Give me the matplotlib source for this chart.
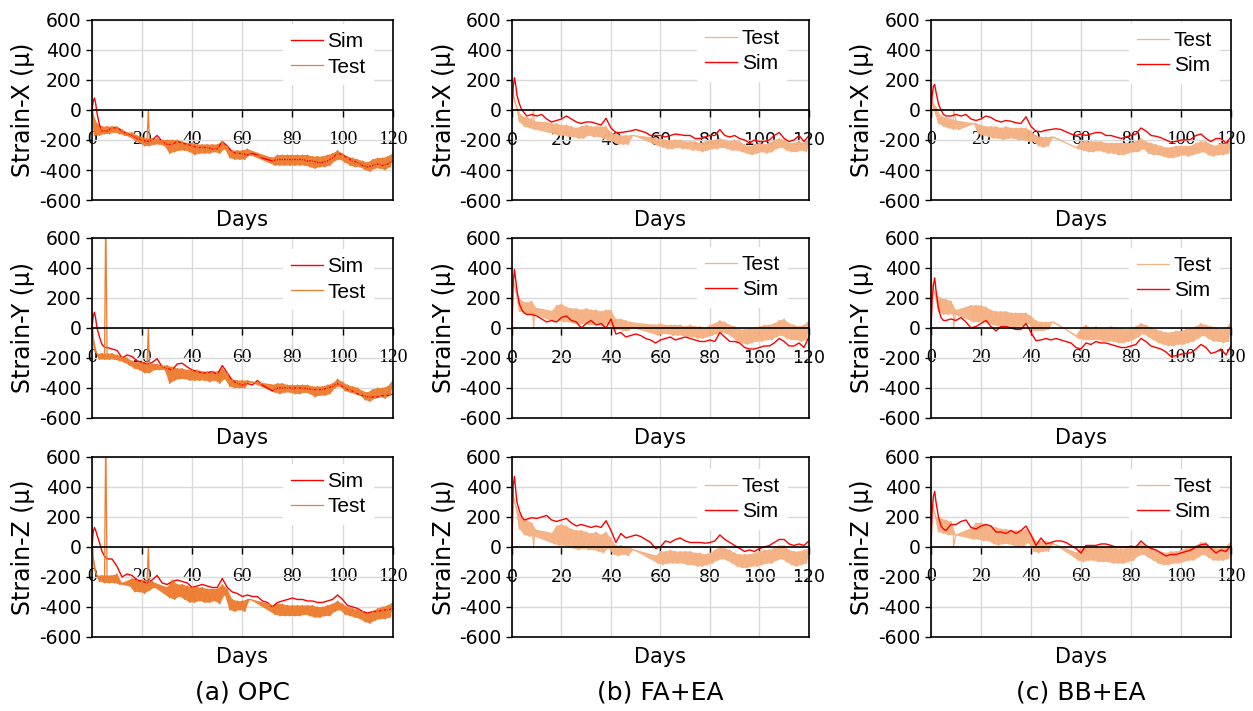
import numpy as np
import matplotlib.pyplot as plt

nan = np.nan

# time grids (days)
sim_days = [0, 0.5, 1, 1.5, 2, 3, 4, 5] + list(range(6, 121, 2))
hi_days = list(range(0, 121, 2))   # upper swings of the noisy test record
lo_days = list(range(1, 120, 2))   # lower swings of the noisy test record

# ---------------- (a) OPC ----------------
opc_x_sim = [0, 60, 80, 40, -20, -100, -140, -140,
             -140, -120, -120, -140, -160, -170, -190,
             -200, -210, -200, -170, -210, -230, -230, -210, -220, -230,
             -240, -250, -250, -250, -260, -260, -210, -240, -280, -290,
             -290, -300, -290, -300, -320, -330, -340, -330, -330, -330,
             -330, -330, -330, -340, -340, -350, -350, -340, -320, -290,
             -300, -320, -340, -350, -370, -380, -370, -360, -370, -360,
             -340]
opc_x_hi = [0, -90, -110, -110, -110, -110, -130, -150, -150, -170,
            -180, -190, -190, -190, -200, -200, -200, -200, -210, -220,
            -220, -230, -230, -230, -230, -230, -210, -240, -270, -270,
            -270, -260, nan, nan, nan, nan, -320, -300, -300, -300,
            -300, -300, -300, -300, -310, -310, -310, -300, -290, -270,
            -290, -310, -320, -330, -340, -350, -330, -320, -320, -310,
            -290]
opc_x_lo = [-170, -170, -160, -160, -150, -160, -170, -180, -200, -220,
            -240, -240, -230, -230, -240, -290, -280, -270, -270, -280,
            -300, -290, -290, -290, -280, -290, -260, -320, -330, -330,
            -330, -300, nan, nan, nan, nan, -370, -370, -370, -370,
            -370, -370, -370, -380, -390, -380, -380, -370, -340, -330,
            -350, -370, -380, -380, -400, -410, -390, -390, -400, -380]
opc_x_spike_days = [22.5]
opc_x_spike_vals = [0]

opc_y_sim = [0, 80, 105, 60, 0, -60, -110, -128,
             -130, -140, -150, -200, -180, -190, -220,
             -230, -240, -230, -205, -260, -270, -280, -240, -235, -260,
             -280, -290, -300, -300, -290, -310, -250, -300, -350, -370,
             -380, -370, -380, -350, -380, -400, -420, -400, -400, -400,
             -400, -400, -400, -405, -410, -410, -410, -400, -390, -370,
             -390, -410, -420, -440, -450, -460, -460, -460, -450, -450,
             -440]
opc_y_hi = [0, -170, -170, -170, -170, -180, -190, -200, -220, -230,
            -230, -230, -240, -240, -250, -250, -260, -270, -270, -280,
            -280, -280, -290, -290, -290, -290, -270, -300, -340, -350,
            -350, -350, nan, nan, nan, nan, -380, -370, -370, -380,
            -380, -380, -380, -380, -390, -390, -390, -380, -370, -340,
            -360, -380, -390, -400, -420, -430, -410, -400, -400, -390,
            -350]
opc_y_lo = [-150, -210, -210, -210, -210, -220, -230, -250, -270, -280,
            -300, -300, -280, -280, -280, -370, -350, -340, -340, -350,
            -350, -350, -350, -360, -350, -370, -340, -390, -400, -400,
            -400, -360, nan, nan, nan, nan, -430, -440, -430, -430,
            -440, -440, -430, -440, -460, -450, -450, -440, -400, -390,
            -420, -430, -440, -450, -480, -490, -470, -460, -470, -450]
opc_y_spike_days = [5.5, 22.5]
opc_y_spike_vals = [800, 0]

opc_z_sim = [0, 100, 130, 110, 80, 30, -30, -60,
             -80, -80, -130, -200, -180, -190, -220,
             -230, -240, -220, -190, -240, -250, -230, -220, -230, -240,
             -270, -260, -250, -260, -270, -270, -210, -270, -300, -310,
             -330, -320, -330, -330, -360, -370, -400, -370, -360, -350,
             -340, -350, -350, -360, -360, -370, -370, -360, -350, -320,
             -350, -390, -400, -410, -430, -440, -430, -430, -420, -420,
             -410]
opc_z_hi = [0, -190, -190, -190, -190, -180, -240, nan, -210, -220,
            -220, -225, -230, nan, nan, -270, -220, -250, -250, -260,
            -270, -270, -270, -280, -280, -280, -250, -280, -350, -360,
            -360, -350, nan, nan, nan, nan, -390, -380, -380, -390,
            -390, -390, -390, -390, -390, -400, -400, -390, -380, -360,
            -380, -400, -410, -420, -430, -440, -430, -410, -400, -390,
            -370]
opc_z_lo = [-150, -230, -240, -240, -240, -250, nan, -260, -300, -300,
            -310, -290, -270, nan, nan, -340, -350, -330, -350, -370,
            -370, -360, -370, -370, -360, -380, -320, -420, -430, -420,
            -430, -350, nan, nan, nan, nan, -450, -460, -460, -460,
            -460, -460, -450, -460, -470, -470, -460, -460, -430, -420,
            -450, -460, -470, -480, -500, -510, -490, -480, -480, -470]
opc_z_spike_days = [5.5, 22.5]
opc_z_spike_vals = [800, 0]

# ---------------- (b) FA+EA ----------------
fa_x_sim = [0, 150, 215, 170, 100, 40, 0, -20,
            -40, -30, -40, -30, -60, -80, -70,
            -60, -40, -60, -80, -90, -80, -80, -90, -100, -55,
            -120, -150, -150, -145, -140, -130, -140, -150, -170, -170,
            -170, -180, -170, -160, -165, -170, -170, -190, -190, -180,
            -170, -170, -130, -170, -180, -170, -190, -200, -220, -200,
            -210, -210, -200, -170, -150, -190, -210, -200, -170, -210,
            -170]
fa_x_hi = [160, 20, -40, -50, -60, -80, nan, nan, -90, -90,
           -100, -100, -110, -120, -110, -100, -110, -110, -110, -110,
           -150, -160, -170, -170, -170, nan, nan, nan, nan, -190,
           -190, -200, -200, -200, -200, -210, -210, -210, -220, -210,
           -200, -200, -190, -200, -210, -200, -210, -230, -240, -230,
           -220, -230, -220, -200, -190, -200, -220, -220, -210, -220,
           -200]
fa_x_lo = [60, -80, -110, -120, -130, nan, nan, nan, -160, -170,
           -170, -180, -180, -190, -190, -170, -180, -180, -190, -200,
           -210, -230, -230, -230, -170, nan, nan, nan, nan, -240,
           -250, -260, -260, -250, -260, -260, -270, -270, -280, -270,
           -260, -260, -250, -260, -270, -270, -280, -290, -300, -290,
           -280, -290, -280, -260, -250, -270, -280, -280, -270, -280]
fa_x_spike_days = [8.8]
fa_x_spike_vals = [0]

fa_y_sim = [0, 300, 390, 320, 250, 160, 120, 100,
            90, 90, 80, 60, 40, 50, 40,
            70, 80, 50, 40, 0, 30, 50, 20, 30, 0,
            60, -40, -30, -60, -50, -40, -50, -70, -80, -100,
            -80, -70, -60, -80, -70, -60, -70, -80, -90, -90,
            -80, -90, -30, -60, -90, -90, -100, -130, -140, -140,
            -130, -120, -120, -100, -70, -90, -120, -120, -100, -130,
            -60]
fa_y_hi = [370, 220, 180, 170, 180, 130, nan, nan, 110, 150,
           160, 140, 130, 130, 120, 130, 120, 120, 110, 120,
           120, 60, 60, 50, 40, nan, nan, nan, nan, 20,
           30, 20, 20, 20, 20, 10, 20, 10, 10, 0,
           20, 30, 50, 40, 20, 10, -10, -10, 0, 0,
           10, 20, 20, 30, 50, 60, 30, 20, 10, 20,
           50]
fa_y_lo = [280, 110, 100, 90, 90, nan, nan, nan, 40, 50,
           40, 40, 30, 20, 30, 20, 20, 20, 10, 30,
           -20, -10, -20, -20, 0, nan, nan, nan, nan, -50,
           -40, -40, -50, -50, -50, -60, -60, -70, -70, -60,
           -50, -40, -30, -40, -60, -90, -100, -110, -100, -90,
           -90, -80, -80, -60, -50, -70, -80, -80, -90, -80]
fa_y_spike_days = [8.8]
fa_y_spike_vals = [0]

fa_z_sim = [0, 410, 470, 380, 300, 240, 200, 180,
            185, 195, 190, 200, 210, 180, 170,
            180, 190, 160, 140, 150, 140, 130, 140, 130, 175,
            110, 30, 90, 60, 70, 80, 70, 50, 30, -10,
            0, 40, 30, 50, 60, 40, 30, 30, 30, 25,
            30, 40, 80, 50, 30, 10, -10, -30, -20, -30,
            -10, 0, 10, 30, 50, 50, 20, 10, 20, 10,
            40]
fa_z_hi = [400, 250, 200, 180, 160, 110, nan, nan, 90, 140,
           150, 140, 120, 110, 110, 100, 90, 100, 80, 100,
           60, 10, 10, 0, -10, nan, nan, nan, nan, -60,
           -30, -30, -20, -30, -30, -30, -30, -40, -40, -50,
           -40, -20, 0, -10, -20, -40, -50, -50, -50, -40,
           -30, -20, -20, -10, 10, 10, -20, -30, -30, -20,
           -10]
fa_z_lo = [300, 120, 80, 70, 70, nan, nan, nan, 20, 10,
           10, 0, -10, -20, -10, -20, -20, -30, -40, -10,
           -50, -60, -50, -60, -20, nan, nan, nan, nan, -110,
           -120, -110, -110, -110, -110, -120, -120, -130, -130, -120,
           -110, -90, -80, -90, -110, -130, -140, -140, -130, -130,
           -120, -110, -110, -90, -80, -100, -120, -130, -120, -110]
fa_z_spike_days = [8.8]
fa_z_spike_vals = [0]

# ---------------- (c) BB+EA ----------------
bb_x_sim = [0, 100, 160, 170, 120, 40, 0, -30,
            -40, -40, -30, -40, -30, -60, -70,
            -60, -40, -50, -70, -80, -70, -75, -85, -90, -45,
            -110, -140, -145, -135, -130, -125, -130, -145, -160, -170,
            -160, -170, -160, -150, -150, -170, -170, -180, -190, -180,
            -170, -160, -120, -140, -170, -175, -185, -200, -215, -210,
            -200, -200, -195, -170, -160, -190, -210, -190, -190, -220,
            -180]
bb_x_hi = [80, 20, -40, -50, -60, -70, nan, nan, nan, -90,
           -100, -110, -110, -110, -120, -110, -120, -120, -120, -120,
           -140, -170, -180, -180, -180, nan, nan, nan, nan, -250,
           -210, -210, -210, -210, -210, -220, -220, -220, -220, -220,
           -220, -210, -190, -210, -220, -230, -240, -250, -250, -240,
           -240, -240, -240, -220, -210, -210, -230, -240, -220, -230,
           -200]
bb_x_lo = [0, -90, -110, -120, -130, -130, nan, nan, -90, -160,
           -170, -180, -190, -190, -200, -190, -190, -200, -200, -210,
           -210, -240, -250, -240, -180, nan, nan, nan, nan, -260,
           -270, -280, -280, -270, -280, -290, -290, -300, -300, -290,
           -280, -280, -260, -290, -300, -300, -310, -320, -320, -310,
           -300, -310, -300, -290, -280, -300, -310, -300, -300, -290]
bb_x_spike_days = [9]
bb_x_spike_vals = [0]

bb_y_sim = [0, 200, 290, 334, 250, 130, 70, 50,
            50, 60, 50, 70, 40, 0, 10,
            30, 50, 10, -20, 10, 10, 0, -10, -10, 30,
            -30, -85, -80, -70, -80, -70, -80, -90, -100, -130,
            -140, -100, -110, -90, -100, -100, -110, -120, -130, -130,
            -120, -110, -70, -90, -120, -130, -140, -160, -190, -185,
            -175, -170, -165, -140, -110, -130, -170, -160, -140, -180,
            -120]
bb_y_hi = [320, 220, 200, 190, 180, 120, nan, nan, 150, 150,
           150, 140, 120, 110, 110, 110, 100, 100, 100, 100,
           80, 50, 40, 40, 40, nan, nan, nan, nan, -50,
           0, 20, 0, 10, 0, 0, 10, 0, 0, -10,
           0, 10, 30, 20, 0, -10, -20, -30, -30, -20,
           -20, -10, 0, 10, 30, 20, 10, 0, -10, 0,
           40]
bb_y_lo = [250, 110, 90, 90, 90, 80, nan, nan, 40, 40,
           40, 30, 20, 10, 20, 10, 0, 10, 10, 30,
           -20, -20, -20, -10, 40, nan, nan, nan, nan, -70,
           -80, -80, -80, -80, -90, -90, -90, -100, -100, -90,
           -80, -60, -40, -60, -80, -100, -110, -120, -120, -110,
           -110, -100, -90, -70, -50, -70, -90, -90, -100, -90]
bb_y_spike_days = [9]
bb_y_spike_vals = [0]

bb_z_sim = [0, 250, 340, 370, 300, 200, 140, 120,
            110, 150, 150, 170, 180, 130, 120,
            140, 150, 140, 100, 100, 90, 110, 90, 110, 140,
            80, 10, 60, 20, 30, 40, 40, 30, 10, -10,
            -40, 10, 10, 10, 20, 20, 10, 0, 0, 0,
            5, 0, 40, 10, -10, -20, -40, -60, -50, -50,
            -40, -30, -20, 0, 15, 20, -10, -40, -20, -30,
            10]
bb_z_hi = [330, 200, 190, 180, 170, 80, nan, nan, 120, 160,
           160, 150, 140, 130, 120, 120, 110, 110, 110, 120,
           90, 40, 40, 40, 30, nan, nan, nan, nan, -40,
           0, 10, 0, 0, 0, 0, 0, -10, -10, -10,
           0, 10, 20, 10, 0, -20, -30, -40, -30, -30,
           -20, -10, 0, 10, 30, 30, 0, -10, -10, 0,
           40]
bb_z_lo = [250, 100, 90, 80, 80, nan, nan, nan, 50, 50,
           40, 40, 20, 10, 20, 20, 10, 0, 0, 30,
           -30, -40, -30, -30, 20, nan, nan, nan, nan, -90,
           -100, -90, -90, -100, -100, -100, -110, -110, -110, -100,
           -90, -60, -50, -70, -90, -110, -120, -120, -110, -110,
           -100, -90, -90, -70, -50, -70, -90, -90, -90, -80]
bb_z_spike_days = [9]
bb_z_spike_vals = [0]

mixes = ['(a) OPC', '(b) FA+EA', '(c) BB+EA']
strains = ['Strain-X (μ)', 'Strain-Y (μ)', 'Strain-Z (μ)']
sims = [[opc_x_sim, fa_x_sim, bb_x_sim],
        [opc_y_sim, fa_y_sim, bb_y_sim],
        [opc_z_sim, fa_z_sim, bb_z_sim]]
tests_hi = [[opc_x_hi, fa_x_hi, bb_x_hi],
            [opc_y_hi, fa_y_hi, bb_y_hi],
            [opc_z_hi, fa_z_hi, bb_z_hi]]
tests_lo = [[opc_x_lo, fa_x_lo, bb_x_lo],
            [opc_y_lo, fa_y_lo, bb_y_lo],
            [opc_z_lo, fa_z_lo, bb_z_lo]]
spike_days = [[opc_x_spike_days, fa_x_spike_days, bb_x_spike_days],
              [opc_y_spike_days, fa_y_spike_days, bb_y_spike_days],
              [opc_z_spike_days, fa_z_spike_days, bb_z_spike_days]]
spike_vals = [[opc_x_spike_vals, fa_x_spike_vals, bb_x_spike_vals],
              [opc_y_spike_vals, fa_y_spike_vals, bb_y_spike_vals],
              [opc_z_spike_vals, fa_z_spike_vals, bb_z_spike_vals]]

test_colors = ['#ED7D31', '#F4B183', '#F4B183']
sim_color = '#FF0000'

# layout (figure fractions)
lefts = [0.0734, 0.4086, 0.743]
widths = [0.240, 0.237, 0.2394]
bottoms = [0.7187, 0.4121, 0.1041]
height = 0.2532
legend_anchor = [[(0.938, 0.978), (0.930, 0.995), (0.964, 0.984)],
                 [(0.938, 0.939), (0.930, 0.951), (0.964, 0.945)],
                 [(0.938, 0.962), (0.930, 0.934), (0.964, 0.934)]]

plt.rcParams['font.family'] = ['DejaVu Sans']
plt.rcParams['axes.unicode_minus'] = False
fig = plt.figure(figsize=(12.53, 7.11), dpi=100)


def clean(x, y):
    x = np.asarray(x, dtype=float)
    y = np.asarray(y, dtype=float)
    ok = ~np.isnan(y)
    return x[ok], y[ok]


for r in range(3):
    for c in range(3):
        ax = fig.add_axes([lefts[c], bottoms[r], widths[c], height])
        col = test_colors[c]

        # test record: band between swings + the zigzag trace with spikes
        hx, hy = clean(hi_days, tests_hi[r][c])
        lx, ly = clean(lo_days, tests_lo[r][c])
        ax.fill(np.concatenate([hx, lx[::-1]]), np.concatenate([hy, ly[::-1]]),
                color=col, alpha=0.95, lw=0)
        tx = np.concatenate([hx, lx, spike_days[r][c]])
        ty = np.concatenate([hy, ly, spike_vals[r][c]])
        order = np.argsort(tx)
        tx, ty = tx[order], ty[order]

        if c == 0:
            ax.plot(sim_days, sims[r][c], color=sim_color, lw=1.0, label='Sim')
            ax.plot(tx, ty, color=col, lw=0.9, label='Test')
        else:
            ax.plot(tx, ty, color=col, lw=0.9, label='Test')
            ax.plot(sim_days, sims[r][c], color=sim_color, lw=1.0, label='Sim')

        ax.set_xlim(0, 120)
        ax.set_ylim(-600, 600)
        ax.set_xticks(range(0, 121, 20))
        ax.set_yticks(range(-600, 601, 200))
        ax.grid(True, color='#D9D9D9', lw=1.0)
        ax.set_axisbelow(True)

        # horizontal axis crosses at zero
        ax.spines['bottom'].set_position(('data', 0))
        for s in ['left', 'right', 'top', 'bottom']:
            ax.spines[s].set_color('black')
            ax.spines[s].set_linewidth(1.2)
        ax.plot([0, 1], [0, 0], transform=ax.transAxes, color='black',
                lw=1.2, clip_on=False)

        ax.tick_params(axis='y', labelsize=13.5, length=4, width=1)
        ax.tick_params(axis='x', length=5, width=1, pad=10)
        for lab in ax.get_xticklabels():
            if c == 1:
                lab.set_fontsize(12.5)
            else:
                lab.set_fontfamily('Liberation Serif')
                lab.set_fontsize(14)

        ax.set_ylabel(strains[r], fontsize=17)
        ax.yaxis.set_label_coords(-0.19, 0.5)
        ax.set_xlabel('Days', fontsize=15)
        ax.xaxis.set_label_coords(0.5, -0.055)

        leg = ax.legend(loc='upper right', bbox_to_anchor=legend_anchor[r][c],
                        prop={'family': 'Liberation Sans', 'size': 15},
                        frameon=True, facecolor='white', edgecolor='none',
                        framealpha=1, handlelength=1.55, handletextpad=0.2,
                        labelspacing=0.3, borderpad=0.4, borderaxespad=0)
        leg.get_frame().set_linewidth(0)

        if r == 2:
            ax.text(0.5, -0.31, mixes[c], transform=ax.transAxes,
                    ha='center', va='center', fontsize=18)

fig.savefig('out.png', dpi=100)
